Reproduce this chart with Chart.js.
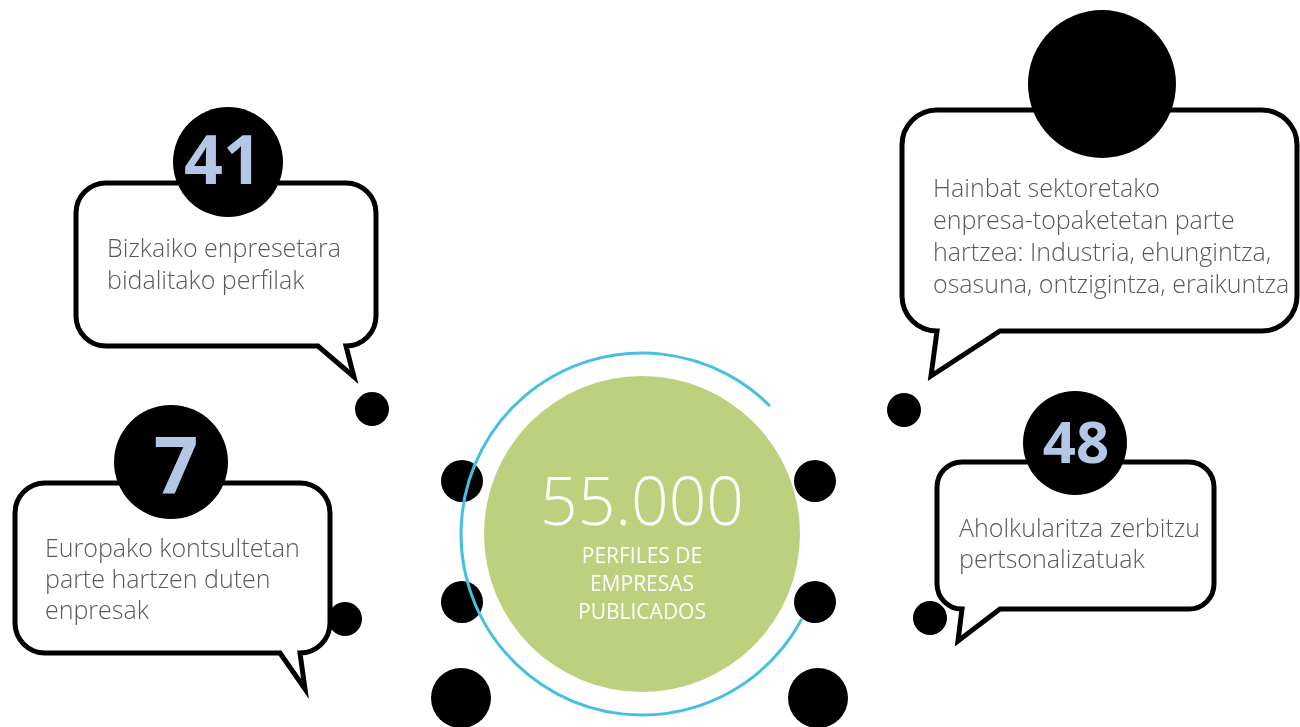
<!DOCTYPE html>
<html><head><meta charset="utf-8">
<script src="https://cdn.jsdelivr.net/npm/chart.js@4.4.0/dist/chart.umd.min.js"></script>
<style>html,body{margin:0;padding:0;background:#fff;overflow:hidden}canvas{display:block}</style>
</head><body><canvas id="c" width="1300" height="727"></canvas>
<script>
// ---- data ----
const statValues = [41, 7, null, 48];
const statLabels = [
  ["Bizkaiko enpresetara", "bidalitako perfilak"],
  ["Europako kontsultetan", "parte hartzen duten", "enpresak"],
  ["Hainbat sektoretako", "enpresa-topaketetan parte", "hartzea: Industria, ehungintza,", "osasuna, ontzigintza, eraikuntza"],
  ["Aholkularitza zerbitzu", "pertsonalizatuak"]
];
const headlineValue = 55000;
const headlineLabel = ["PERFILES DE", "EMPRESAS", "PUBLICADOS"];

// ---- layout (positions in the 1300x727 coordinate space of the scales) ----
const bubbleLayout = [
  {box:[76,183,376,346], rad:30, tail:{right:346, tip:[354,377], left:318}, circle:[228,162,55], num:[223,184,68], text:[107,257,32]},
  {box:[15,483,330,653], rad:30, tail:{right:300, tip:[305,689], left:280}, circle:[171,462,57], num:[176,493,78], text:[45,557,31]},
  {box:[902,110,1297,331], rad:35, tail:{right:1000, tip:[931,376], left:937}, circle:[1102,84,74], num:[1102,130,60], text:[933,197,32]},
  {box:[937,462,1214,609], rad:25, tail:{right:1000, tip:[958,641], left:962}, circle:[1075,443,52], num:[1076,463,58], text:[959,537,31]}
];
const dotLayout = [
  [372,409,17],[462,481,21],[462,602,21],[345,619,17],[461,698,30],
  [904,410,17],[815,481,21],[815,602,21],[930,618,17],[818,698,30]
];
const centerLayout = {cx:642, cy:534, r:158, ringR:181, ringStart:-45, ringEnd:28};

const FONT = '"Open Sans", "Noto Sans", sans-serif';

const infographic = {
  id: 'infographic',
  beforeDatasetsDraw(chart) {
    const ctx = chart.ctx, sx = chart.scales.x, sy = chart.scales.y;
    const X = v => sx.getPixelForValue(v), Y = v => sy.getPixelForValue(v);
    ctx.save();
    bubbleLayout.forEach(b => {
      const [l0,t0,r0,b0] = b.box;
      const l=X(l0), t=Y(t0), R=X(r0), B=Y(b0), r=b.rad;
      ctx.beginPath();
      ctx.moveTo(l+r, t);
      ctx.lineTo(R-r, t);
      ctx.arcTo(R, t, R, t+r, r);
      ctx.lineTo(R, B-r);
      ctx.arcTo(R, B, R-r, B, r);
      ctx.lineTo(X(b.tail.right), B);
      ctx.lineTo(X(b.tail.tip[0]), Y(b.tail.tip[1]));
      ctx.lineTo(X(b.tail.left), B);
      ctx.lineTo(l+r, B);
      ctx.arcTo(l, B, l, B-r, r);
      ctx.lineTo(l, t+r);
      ctx.arcTo(l, t, l+r, t, r);
      ctx.closePath();
      ctx.fillStyle = '#fff';
      ctx.fill();
      ctx.lineWidth = 5;
      ctx.lineJoin = 'miter';
      ctx.strokeStyle = '#000';
      ctx.stroke();
    });
    ctx.restore();
  },
  afterDatasetsDraw(chart) {
    const ctx = chart.ctx, sx = chart.scales.x, sy = chart.scales.y;
    const X = v => sx.getPixelForValue(v), Y = v => sy.getPixelForValue(v);
    ctx.save();
    // fillets where number circles meet box top line
    bubbleLayout.forEach(b => {
      const [cx0, cy0, cr] = b.circle;
      const cx = X(cx0), cy = Y(cy0), ly = Y(b.box[1]);
      const w = 2.5, f = 12;
      const dy = ly - cy;
      if (Math.abs(dy) >= cr) return;
      const dx = Math.sqrt(cr*cr - dy*dy);
      const py = ly + f * 0.9;
      const pdx = Math.sqrt(Math.max(0, cr*cr - (py-cy)*(py-cy)));
      [-1, 1].forEach(s => {
        const xi = cx + s*dx;
        ctx.beginPath();
        ctx.moveTo(xi - s*f, ly - w);
        ctx.lineTo(cx, ly - w);
        ctx.lineTo(cx, cy);
        ctx.lineTo(cx + s*pdx, py);
        ctx.quadraticCurveTo(xi - s*f*0.1, ly + w, xi - s*f, ly + w);
        ctx.closePath();
        ctx.fillStyle = '#000';
        ctx.fill();
      });
    });
    // ring
    const c = centerLayout;
    ctx.beginPath();
    ctx.arc(X(c.cx), Y(c.cy), c.ringR, c.ringEnd*Math.PI/180, (360 + c.ringStart)*Math.PI/180);
    ctx.strokeStyle = '#48bfe0';
    ctx.lineWidth = 3;
    ctx.stroke();
    // numbers
    ctx.textAlign = 'center';
    ctx.textBaseline = 'alphabetic';
    bubbleLayout.forEach((b, i) => {
      if (statValues[i] == null) return;
      ctx.fillStyle = '#b4c7e7';
      ctx.font = `700 ${b.num[2]}px ${FONT}`;
      ctx.fillText(String(statValues[i]), X(b.num[0]), Y(b.num[1]));
    });
    // labels
    ctx.textAlign = 'left';
    bubbleLayout.forEach((b, i) => {
      ctx.fillStyle = '#58595b';
      ctx.font = `300 25px ${FONT}`;
      statLabels[i].forEach((line, j) => {
        ctx.fillText(line, X(b.text[0]), Y(b.text[1] + j*b.text[2]));
      });
    });
    // headline
    ctx.textAlign = 'center';
    ctx.fillStyle = '#ffffff';
    ctx.font = `300 66px ${FONT}`;
    ctx.fillText(headlineValue.toLocaleString('de-DE'), X(c.cx), Y(525));
    ctx.font = `400 21px ${FONT}`;
    headlineLabel.forEach((line, j) => ctx.fillText(line, X(c.cx), Y(563 + j*28)));
    ctx.restore();
  }
};

new Chart(document.getElementById('c'), {
  type: 'bubble',
  data: {
    datasets: [
      {label:'dots', data: dotLayout.map(d => ({x:d[0], y:d[1], r:d[2]})), backgroundColor:'#000', borderWidth:0, clip:false},
      {label:'stats', data: bubbleLayout.map(b => ({x:b.circle[0], y:b.circle[1], r:b.circle[2]})), backgroundColor:'#000', borderWidth:0, clip:false},
      {label:'headline', data: [{x:centerLayout.cx, y:centerLayout.cy, r:centerLayout.r}], backgroundColor:'#bdd07e', borderWidth:0, clip:false}
    ]
  },
  options: {
    responsive: false,
    devicePixelRatio: 1,
    animation: false,
    events: [],
    layout: {padding: 0, autoPadding: false},
    plugins: {legend: {display:false}, tooltip: {enabled:false}},
    elements: {point: {hoverRadius: 0}},
    scales: {
      x: {type:'linear', min:0, max:1300, display:false},
      y: {type:'linear', min:0, max:727, reverse:true, display:false}
    }
  },
  plugins: [infographic]
});
</script>
</body></html>
